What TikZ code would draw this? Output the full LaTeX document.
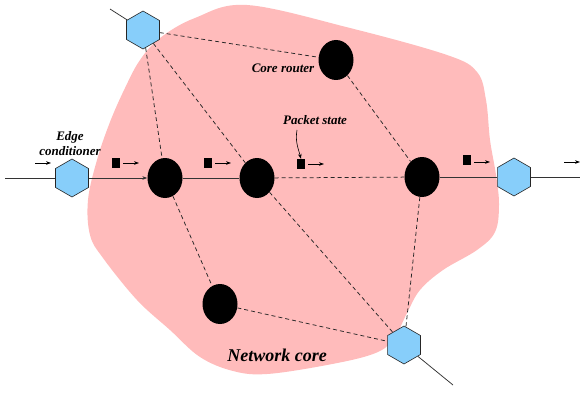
\documentclass[tikz,border=0pt]{standalone}
\usepackage{fontspec}
\setmainfont{Liberation Serif}
\usetikzlibrary{shapes.geometric,arrows.meta}
\definecolor{blobpink}{RGB}{255,187,187}
\definecolor{hexblue}{RGB}{135,206,250}
\tikzset{
  hexnode/.style={regular polygon, regular polygon sides=6, shape border rotate=30,
    minimum size=38pt, inner sep=0pt, draw=black!85, fill=hexblue, line width=0.6pt},
  router/.style={ellipse, fill=black, minimum width=35pt, minimum height=40pt, inner sep=0pt},
  link/.style={line width=0.75pt, draw=black!80},
  dlink/.style={line width=0.75pt, dash pattern=on 4pt off 3pt, draw=black!85},
  tip/.style={-{Stealth[length=5pt,width=3.6pt]}},
  lbl/.style={font=\fontsize{13}{15}\selectfont\bfseries\itshape, inner sep=0pt, align=center},
  pkt/.style={rectangle, fill=black, minimum width=8pt, minimum height=10pt, inner sep=0pt},
  flow/.style={line width=0.6pt, -{Stealth[length=5pt,width=3.6pt]}}
}
\begin{document}
\begin{tikzpicture}[x=1pt,y=-1pt]
\useasboundingbox (0,0) rectangle (580,393);
% network core blob
\fill[blobpink] plot[smooth cycle, tension=0.6] coordinates {
 (247,5) (350,28) (447,55) (477,72) (486,100) (490,140) (496,175) (499,205)
 (495,232) (477,250) (443,270) (420,290) (407,313) (393,340) (373,354)
 (327,365) (267,374) (233,371) (200,357) (170,330) (137,300) (103,258)
 (90,235) (88,200) (97,160) (110,122) (125,88) (140,60) (160,38) (195,18)};
% nodes
\node[hexnode] (hL) at (72,178) {};
\node[hexnode] (hT) at (143,30) {};
\node[hexnode] (hR) at (514,177) {};
\node[hexnode] (hB) at (404,345) {};
\node[router] (A) at (165,178) {};
\node[router] (B) at (257,178) {};
\node[router] (C) at (422,177) {};
\node[router] (R) at (336,60) {};
\node[router] (D) at (220,304) {};
\coordinate (lin) at (5,178);
\coordinate (rout) at (580,177);
\coordinate (tlout) at (110,9);
\coordinate (bout) at (453,385);
% connectors
\draw[link] (lin) -- (hL);
\draw[link,tip] (hL) -- (A);
\draw[link] (A) -- (B);
\draw[dlink] (B) -- (C);
\draw[link] (C) -- (hR);
\draw[link] (hR) -- (rout);
\draw[link] (hT) -- (tlout);
\draw[link] (hB) -- (bout);
\draw[dlink] (hT) -- (R);
\draw[dlink] (hT) -- (A);
\draw[dlink] (hT) -- (B);
\draw[dlink] (R) -- (C);
\draw[dlink] (A) -- (D);
\draw[dlink] (D) -- (hB);
\draw[dlink] (B) -- (hB);
\draw[dlink] (C) -- (hB);
% packets
\node[pkt] (p1) at (116,163) {};
\node[pkt] (p2) at (208,163) {};
\node[pkt] (p3) at (301,164) {};
\node[pkt] (p4) at (467,160) {};
\coordinate (p1s) at (123,163); \coordinate (p1e) at (139,163);
\coordinate (p2s) at (215,163); \coordinate (p2e) at (231,163);
\coordinate (p3s) at (308,164); \coordinate (p3e) at (324,164);
\coordinate (p4s) at (474,162); \coordinate (p4e) at (490,162);
\coordinate (l0s) at (35,163); \coordinate (l0e) at (51,163);
\coordinate (r0s) at (564,162); \coordinate (r0e) at (580,162);
\draw[flow] (p1s) -- (p1e);
\draw[flow] (p2s) -- (p2e);
\draw[flow] (p3s) -- (p3e);
\draw[flow] (p4s) -- (p4e);
\draw[flow] (l0s) -- (l0e);
\draw[flow] (r0s) -- (r0e);
% labels
\node[lbl] (ec) at (70,144) {Edge\\conditioner};
\node[lbl] (cr) at (283,68) {Core router};
\node[lbl] (ps) at (315,120) {Packet state};
\node[lbl, font=\fontsize{18}{20}\selectfont\bfseries\itshape] (nc) at (277,355) {Network core};
\coordinate (psa) at (297,130);
\draw[line width=0.6pt, tip] (psa) to[out=-100,in=105] (p3.north);
\end{tikzpicture}
\end{document}
